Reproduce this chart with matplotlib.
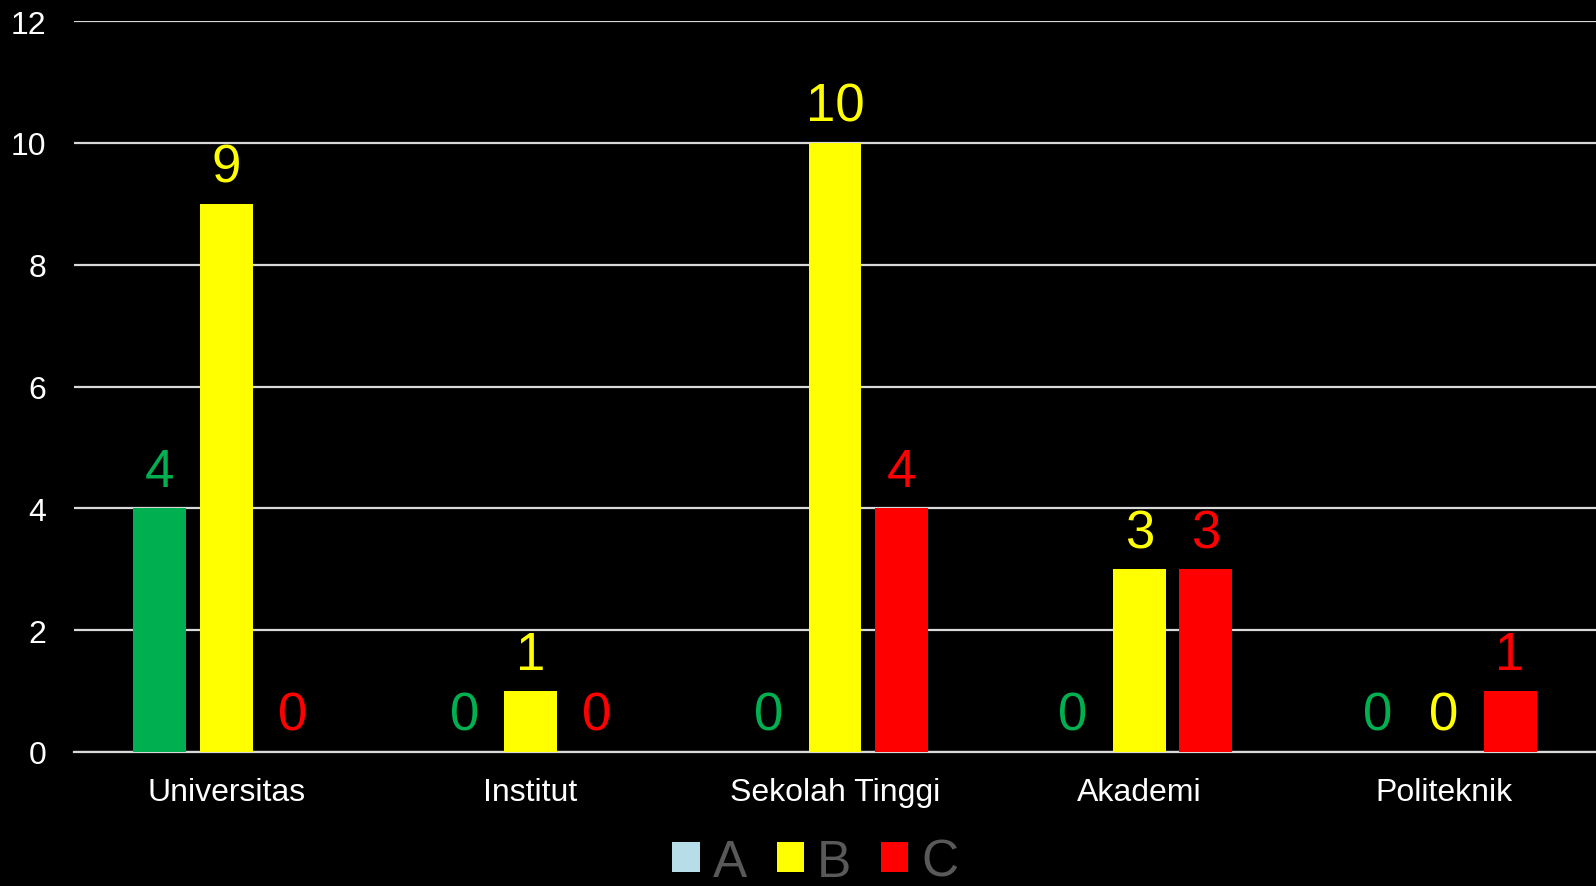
import numpy as np
import matplotlib.pyplot as plt
from matplotlib.patches import Patch

plt.rcParams['font.family'] = ['Liberation Sans', 'DejaVu Sans']

# Data
categories = ['Universitas', 'Institut', 'Sekolah Tinggi', 'Akademi', 'Politeknik']
series_names = ['A', 'B', 'C']
a_values = [4, 0, 0, 0, 0]
b_values = [9, 1, 10, 3, 0]
c_values = [0, 0, 4, 3, 1]

bar_colors = ['#00B050', '#FFFF00', '#FF0000']
legend_colors = ['#B7DEE8', '#FFFF00', '#FF0000']
yticks = [0, 2, 4, 6, 8, 10, 12]

fig = plt.figure(figsize=(15.96, 8.87), dpi=100, facecolor='black')
ax = fig.add_axes([74 / 1596, 1 - 753 / 887, 1 - 74 / 1596, (753 - 22) / 887])
ax.set_facecolor('black')

x = np.arange(len(categories))
offset = 0.218
width = 0.174
for i, vals in enumerate([a_values, b_values, c_values]):
    bars = ax.bar(x + (i - 1) * offset, vals, width, color=bar_colors[i], zorder=3)
    ax.bar_label(bars, labels=[str(v) for v in vals], padding=8,
                 color=bar_colors[i], fontsize=38)

ax.set_xlim(-0.5, len(categories) - 0.5)
ax.set_ylim(0, 12)
ax.set_yticks(yticks)
ax.set_xticks(x)
ax.set_xticklabels(categories)
ax.tick_params(axis='both', length=0, colors='white', labelsize=23)
ax.tick_params(axis='y', pad=20)
ax.tick_params(axis='x', pad=18)
ax.grid(axis='y', color='#D9D9D9', lw=1.6, zorder=0)
for s in ['top', 'right', 'left']:
    ax.spines[s].set_visible(False)
ax.spines['bottom'].set_color('#D9D9D9')
ax.spines['bottom'].set_linewidth(1.6)

handles = [Patch(facecolor=c, edgecolor='none') for c in legend_colors]
leg = fig.legend(handles, series_names, loc='center', bbox_to_anchor=(0.511, 0.027),
                 ncol=3, frameon=False, fontsize=37, labelcolor='#595959',
                 handlelength=0.53, handleheight=0.53, handletextpad=0.26,
                 columnspacing=0.57, borderpad=0)

fig.savefig('out.png', dpi=100, facecolor='black')
